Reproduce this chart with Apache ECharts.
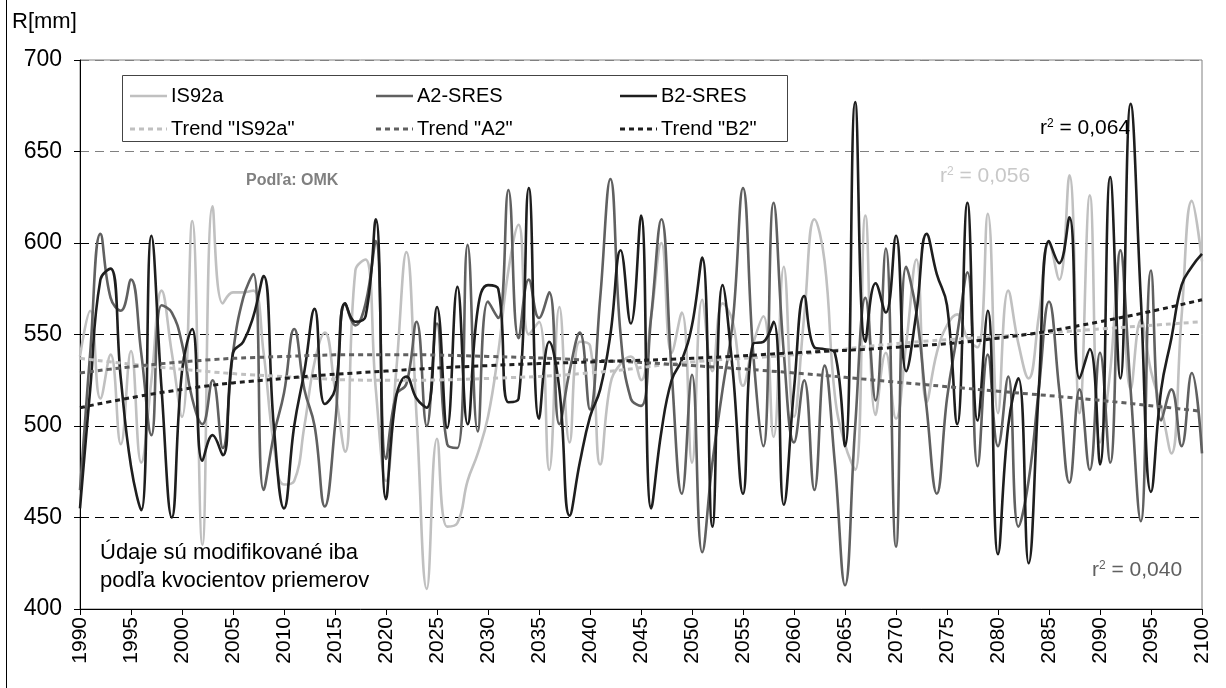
<!DOCTYPE html>
<html>
<head>
<meta charset="utf-8">
<script src="https://cdn.jsdelivr.net/npm/echarts@6/dist/echarts.min.js"></script>
<style>
html,body{margin:0;padding:0;background:#fff;}
#chart{width:1226px;height:688px;}
</style>
</head>
<body>
<div id="chart"></div>
<script>
// ---- data ----
var years = [];
for (var y = 1990; y <= 2100; y++) years.push(y);

var is92a = [538,563,515,539,490,541,480,525,574,540,
  505,612,435,620,567,573,573,574,540,490,
  468,470,500,535,551,520,486,585,591,520,
  470,530,595,505,411,493,445,447,470,485,
  505,540,585,610,550,557,476,565,491,546,
  544,479,523,534,538,525,560,600,540,562,
  480,569,530,567,557,522,545,560,494,587,
  505,560,613,590,517,490,476,615,506,540,
  504,545,591,513,540,555,561,548,543,616,
  507,574,545,526,560,600,580,637,507,626,
  491,530,596,520,558,530,510,485,560,623,
  590];

var a2sres = [465,540,605,570,563,580,540,495,566,562,
  545,515,501,525,488,540,570,583,465,495,
  518,553,520,500,456,500,567,555,567,601,
  482,517,523,557,500,556,490,488,599,497,
  568,559,629,548,580,559,573,501,530,551,
  509,570,635,550,515,511,560,613,530,463,
  528,431,480,520,557,630,540,489,622,540,
  491,525,465,533,480,413,500,570,514,597,
  434,587,562,510,463,515,550,584,478,539,
  489,527,445,470,520,568,520,469,520,476,
  540,480,596,520,448,585,503,520,489,529,
  485];

var b2sres = [455,520,580,586,526,478,454,604,520,450,
  530,553,481,495,484,540,546,560,582,500,
  455,500,530,564,512,520,567,557,560,613,
  460,516,527,515,510,565,499,576,501,564,
  577,575,513,515,630,504,546,520,451,480,
  505,520,550,596,556,615,455,497,525,536,
  555,592,445,577,530,463,545,546,557,457,
  520,571,543,542,540,489,677,546,578,562,
  604,530,562,605,583,566,501,622,503,563,
  430,500,526,425,520,601,589,614,526,542,
  479,636,526,676,570,464,520,548,577,587,
  594];

var trendYears = [1990,2000,2010,2020,2030,2040,2050,2060,2070,2080,2090,2100];
var trendIS92a = [537,531,527,525,526,529,535,539,545,549,553,557];
var trendA2    = [529,535,538,539,538,536,533,529,524,519,514,508];
var trendB2    = [510,520,526,530,533,535,537,540,543,548,557,569];

var yTicks = [400,450,500,550,600,650,700];

var legendRow1 = ['IS92a','A2-SRES','B2-SRES'];
var legendRow2 = ['Trend "IS92a"','Trend "A2"','Trend "B2"'];

// ---- build ----
function pairs(xs, vs){ return xs.map(function(x,i){ return [x, vs[i]]; }); }

var FONT = "'Liberation Sans', Arial, sans-serif";
var FS = 20;
var C1 = '#c0c0c0', C2 = '#606060', C3 = '#1e1e1e';
var colors = [C1, C2, C3];
var DASH = [5,4];

function mainSeries(name, vals, color){
  return {type:'line', name:name, data:pairs(years, vals), smooth:0.45,
    symbol:'none', showSymbol:false, lineStyle:{color:color, width:2.6},
    itemStyle:{color:color}, z:2};
}
function trendSeries(name, vals, color){
  return {type:'line', name:name, data:pairs(trendYears, vals), smooth:0.5,
    symbol:'none', showSymbol:false, lineStyle:{color:color, width:3, type:DASH},
    itemStyle:{color:color}, z:3};
}

// manual legend (graphic)
var legendGraphics = [
  {type:'rect', shape:{x:122.5, y:75.5, width:665, height:66}, style:{fill:'#fff', stroke:'#444', lineWidth:1}, z:20}
];
var colX = [130, 376, 620];
[legendRow1, legendRow2].forEach(function(row, r){
  var yy = r === 0 ? 96 : 129;
  row.forEach(function(label, i){
    legendGraphics.push({type:'line', shape:{x1:colX[i], y1:yy, x2:colX[i]+37, y2:yy},
      style:{stroke:colors[i], lineWidth:r===0?2.6:3, lineDash:r===0?null:DASH}, z:21});
    legendGraphics.push({type:'text', x:colX[i]+41, y:yy,
      style:{text:label, font:FS+'px '+FONT, fill:'#000', verticalAlign:'middle', align:'left'}, z:21});
  });
});

function r2(text, color, x, y){
  return {type:'text', x:x, y:y, z:22,
    style:{text:'{a|r}{s|2}{a| = '+text+'}', verticalAlign:'middle',
      rich:{a:{fontFamily:FONT, fontSize:21, fill:color, color:color},
            s:{fontFamily:FONT, fontSize:12, fill:color, color:color, verticalAlign:'top', padding:[0,0,9,0]}}}};
}

var chart = echarts.init(document.getElementById('chart'));
var option = {
  animation:false,
  backgroundColor:'#fff',
  grid:{left:80, right:24, top:60, bottom:79, show:true, borderColor:'#808080', borderWidth:1},
  xAxis:{type:'value', min:1990, max:2100, interval:5,
    axisLine:{lineStyle:{color:'#000', width:1}},
    axisTick:{show:true, length:6, lineStyle:{color:'#000'}},
    axisLabel:{rotate:90, fontFamily:FONT, fontSize:21, color:'#000', margin:8,
      formatter:function(v){ return String(v); }},
    splitLine:{show:false}},
  yAxis:{type:'value', min:yTicks[0], max:yTicks[yTicks.length-1], interval:50,
    axisLine:{show:true, lineStyle:{color:'#000', width:1}},
    axisTick:{show:true, length:6, lineStyle:{color:'#000'}},
    axisLabel:{fontFamily:FONT, fontSize:23, color:'#000', margin:18,
      formatter:function(v){ return String(v); }},
    splitLine:{show:true, lineStyle:{color:['#000','#000','#000','#000','#000','#808080','#808080'], type:[9,6], width:1}}},
  graphic:[
    {type:'line', shape:{x1:6.5, y1:0, x2:6.5, y2:688}, style:{stroke:'#000', lineWidth:1}, z:10},
    {type:'text', x:12, y:22, style:{text:'R[mm]', font:'22px '+FONT, fill:'#000', verticalAlign:'middle'}, z:10},
    {type:'text', x:246, y:181, style:{text:'Podľa: OMK', font:'bold 16px '+FONT, fill:'#808080', verticalAlign:'middle'}, z:10},
    {type:'text', x:100, y:553, style:{text:'Údaje sú modifikované iba', font:'22px '+FONT, fill:'#000', verticalAlign:'middle'}, z:10},
    {type:'text', x:100, y:581, style:{text:'podľa kvocientov priemerov', font:'22px '+FONT, fill:'#000', verticalAlign:'middle'}, z:10},
    r2('0,064', '#000', 1040, 128),
    r2('0,056', '#c8c8c8', 940, 176),
    r2('0,040', '#606060', 1092, 570)
  ].concat(legendGraphics),
  series:[
    mainSeries(legendRow1[0], is92a, C1),
    mainSeries(legendRow1[1], a2sres, C2),
    mainSeries(legendRow1[2], b2sres, C3),
    trendSeries(legendRow2[0], trendIS92a, C1),
    trendSeries(legendRow2[1], trendA2, C2),
    trendSeries(legendRow2[2], trendB2, C3)
  ]
};
chart.setOption(option);
</script>
</body>
</html>
